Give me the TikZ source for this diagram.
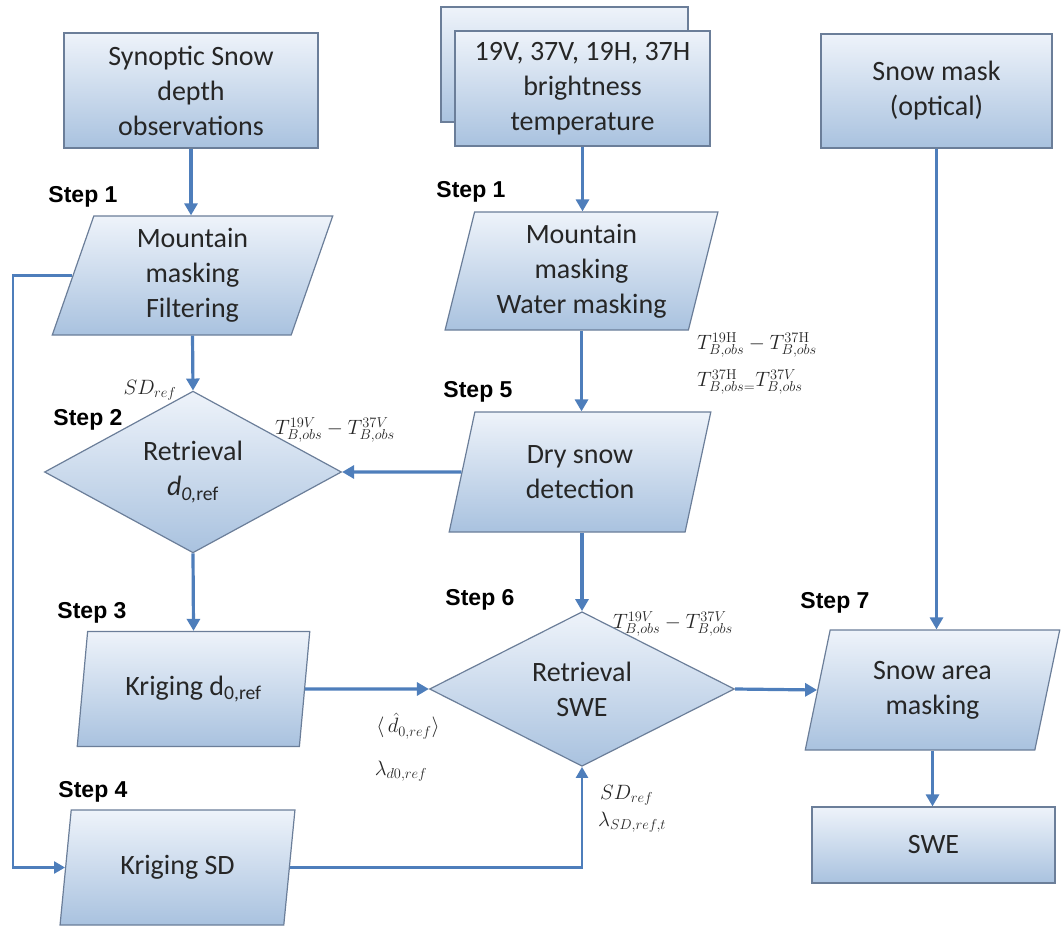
\documentclass[tikz,border=0pt]{standalone}
\usepackage[no-math]{fontspec}
\setmainfont{Carlito}
\newfontfamily\stepfont{Liberation Sans}
\usepackage{tikz}
\usetikzlibrary{shapes.geometric}
\usetikzlibrary{arrows.meta}

\definecolor{boxtop}{HTML}{EEF3FA}
\definecolor{boxbot}{HTML}{A9C2DF}
\definecolor{boxline}{HTML}{6B7E99}
\definecolor{flow}{HTML}{4E7EBB}
\definecolor{txt}{HTML}{262626}

\begin{document}
\begin{tikzpicture}[x=1pt, y=-1pt,
  box/.style={draw=boxline, line width=1.2pt, top color=boxtop, bottom color=boxbot,
    text=txt, align=center, font=\fontsize{28}{35}\selectfont, inner sep=0pt},
  rect/.style={box, rectangle},
  para/.style={box, trapezium, trapezium left angle=76, trapezium right angle=104,
    trapezium stretches},
  decide/.style={box, diamond},
  stepname/.style={font=\stepfont\bfseries\fontsize{23}{27}\selectfont, inner sep=0pt},
  sym/.style={font=\fontsize{21}{25}\selectfont, text=txt, inner sep=0pt},
  arr/.style={draw=flow, line width=3.2pt, -{Triangle[length=12pt,width=13pt]}},
  thinarr/.style={draw=flow, line width=2.4pt, -{Triangle[length=11pt,width=12pt]}},
]
\useasboundingbox (0,0) rectangle (1063,928);

% inputs
\node[rect, minimum width=254pt, minimum height=115pt] (synop) at (191,90.5) {Synoptic Snow\\depth\\observations};
\node[rect, minimum width=247pt, minimum height=115pt] (tbback) at (564.5,64.5) {};
\node[rect, minimum width=255pt, minimum height=115pt] (tb) at (582.5,88.5) {19V, 37V, 19H, 37H\\brightness\\temperature};
\node[rect, minimum width=231pt, minimum height=114pt] (mask) at (936.5,91) {Snow mask\\(optical)};

% processing steps
\node[para, minimum width=281pt, minimum height=119pt] (filt) at (192.5,275.5) {Mountain\\masking\\Filtering};
\node[para, minimum width=273pt, minimum height=118pt] (water) at (581.5,271) {Mountain\\masking\\Water masking};
\node[para, minimum width=262pt, minimum height=120pt] (dry) at (580,472) {Dry snow\\detection};
\node[decide, minimum width=297pt, minimum height=136pt] (retd) at (193,472) {Retrieval\\{\itshape d}\textsubscript{\itshape 0,\upshape ref}};
\node[para, minimum width=233pt, minimum height=115pt] (krigd) at (193.5,689) {Kriging d\textsubscript{0,ref}};
\node[decide, minimum width=305pt, minimum height=137pt] (retswe) at (582,689) {Retrieval\\SWE};
\node[para, minimum width=235pt, minimum height=115pt] (krigsd) at (177.5,867.5) {Kriging SD};
\node[para, minimum width=255pt, minimum height=120pt] (area) at (932.5,690) {Snow area\\masking};
\node[rect, minimum width=243pt, minimum height=76pt] (swe) at (933.5,845) {SWE};
\coordinate (loop) at (13,0);

% step names
\node[stepname] (s1a) at (83,197) {Step 1};
\node[stepname] (s1b) at (471,192) {Step 1};
\node[stepname] (s2) at (88,420) {Step 2};
\node[stepname] (s3) at (92,613) {Step 3};
\node[stepname] (s4) at (93,792) {Step 4};
\node[stepname] (s5) at (478,392) {Step 5};
\node[stepname] (s6) at (480,600) {Step 6};
\node[stepname] (s7) at (835,603) {Step 7};

% flow
\draw[arr] (synop.south) -- (synop.south |- filt.north);
\draw[arr] (tb.south) -- (tb.south |- water.north);
\draw[arr] (water.south) -- (water.south |- dry.north);
\draw[arr] (filt.south) -- (retd.north);
\draw[arr] (dry.west) -- (retd.east);
\draw[arr] (retd.south) -- (krigd.north);
\draw[arr] (krigd.east) -- (retswe.west);
\draw[arr] (retswe.north |- dry.south) -- (retswe.north);
\draw[arr] (retswe.east) -- (area.west);
\draw[arr] (mask.south) -- (mask.south |- area.north);
\draw[arr] (area.south) -- (area.south |- swe.north);
\draw[thinarr] (filt.west) -- (filt.west -| loop) |- (krigsd.west);
\draw[thinarr] (krigsd.east) -| (retswe.south);

% inputs of the retrievals
\node[sym] (sdref) at (150,390) {$SD_{ref}$};
\node[sym] (tv1) at (335,430) {$T^{19V}_{B,obs}-T^{37V}_{B,obs}$};
\node[sym, anchor=west] (th1) at (697,345) {$T^{19\mathrm{H}}_{B,obs}-T^{37\mathrm{H}}_{B,obs}$};
\node[sym, anchor=west] (th2) at (697,382) {$T^{37\mathrm{H}}_{B,obs{=}}T^{37V}_{B,obs}$};
\node[sym] (tv2) at (673,624) {$T^{19V}_{B,obs}-T^{37V}_{B,obs}$};
\node[sym] (dhat) at (408,726) {$\Big\langle\, \hat{d}_{0,ref} \Big\rangle$};
\node[sym] (lamd) at (401,771) {$\lambda_{d0,ref}$};
\node[sym, anchor=west] (sdref2) at (600,795) {$SD_{ref}$};
\node[sym, anchor=west] (lamsd) at (598,822) {$\lambda_{SD,ref,t}$};
\end{tikzpicture}
\end{document}
